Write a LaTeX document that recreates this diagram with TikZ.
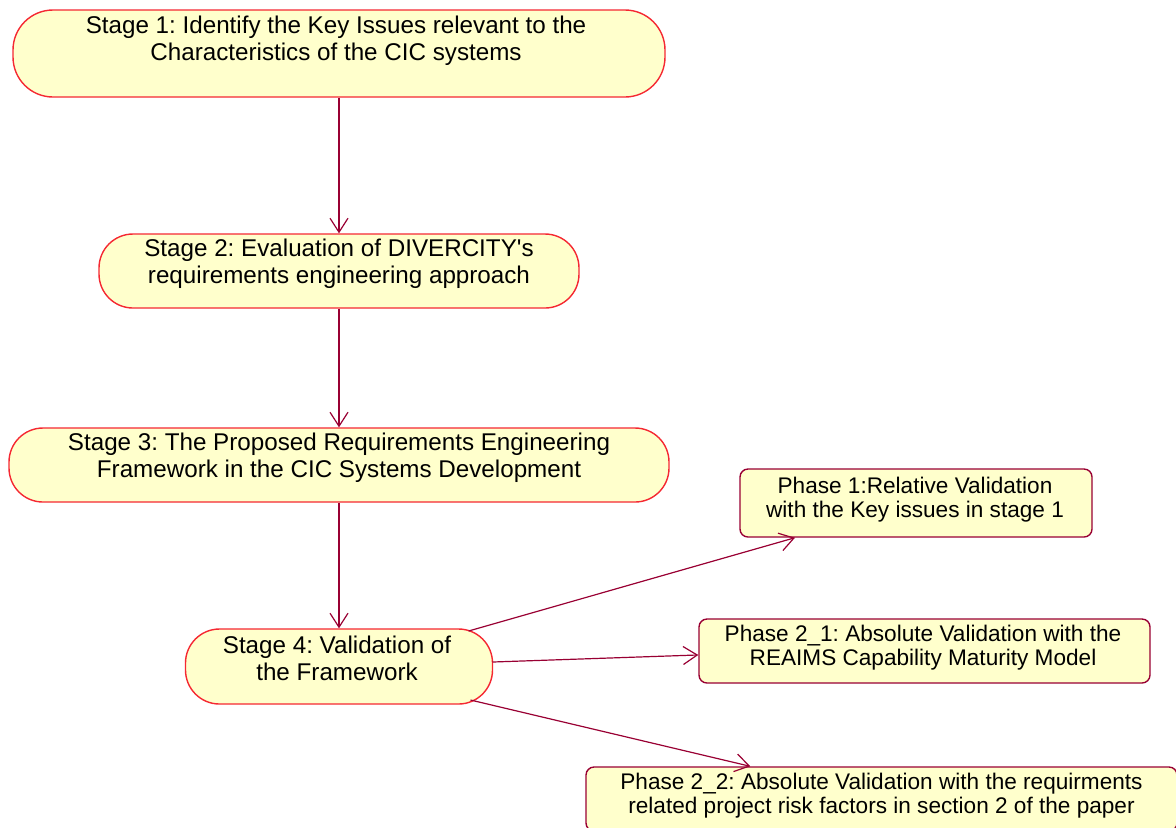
\documentclass[tikz,border=0pt]{standalone}
\usepackage{fontspec}
\setmainfont{Liberation Sans}[Ligatures=TeXOff]
\usetikzlibrary{arrows.meta,calc}
\definecolor{fillY}{RGB}{255,255,204}
\definecolor{stageB}{RGB}{245,40,50}
\definecolor{crim}{RGB}{153,0,51}
\frenchspacing
\begin{document}
\begin{tikzpicture}[x=0.5pt,y=-0.5pt,
  stagebox/.style={draw=stageB,fill=fillY,line width=0.7pt,inner sep=0pt},
  phasebox/.style={draw=crim,fill=fillY,line width=0.7pt,rounded corners=4pt,inner sep=0pt},
  stagetext/.style={align=center,inner sep=0pt,font=\fontsize{12.1pt}{13.7pt}\selectfont},
  phasetext/.style={align=center,inner sep=0pt,font=\fontsize{11.3pt}{12pt}\selectfont},
  conn/.style={draw=crim,line width=0.6pt,-{Straight Barb[length=7pt,width=9pt]}}]
\useasboundingbox (0,0) rectangle (1176,827);
\begin{scope}
\clip (0,0) rectangle (1176,827);
% stages
\node[stagebox,rounded corners=20pt,minimum width=326pt,minimum height=43.5pt] (s1) at (339,53.5) {};
\node[stagetext] (t1) at (336,40.5) {Stage 1: Identify the Key Issues relevant to the\\Characteristics of the CIC systems};
\node[stagebox,rounded corners=17pt,minimum width=240pt,minimum height=37pt] (s2) at (339,271) {};
\node[stagetext] (t2) at (339,264) {Stage 2: Evaluation of DIVERCITY's\\requirements engineering approach};
\node[stagebox,rounded corners=17pt,minimum width=330pt,minimum height=37pt] (s3) at (339,465) {};
\node[stagetext] (t3) at (339,458) {Stage 3: The Proposed Requirements Engineering\\Framework in the CIC Systems Development};
\node[stagebox,rounded corners=17pt,minimum width=153.5pt,minimum height=37.5pt] (s4) at (339,666.5) {};
\node[stagetext] (t4) at (337,658.5) {Stage 4: Validation of\\the Framework};
% phases
\node[phasebox,minimum width=176pt,minimum height=34pt] (p1) at (916,503) {};
\node[phasetext] (tp1) at (915,500) {Phase 1:Relative Validation\\with the Key issues in stage 1};
\node[phasebox,minimum width=225.5pt,minimum height=32pt] (p21) at (924.5,651) {};
\node[phasetext] (tp21) at (923,648) {Phase 2\_1: Absolute Validation with the\\REAIMS Capability Maturity Model};
\node[phasebox,minimum width=295.5pt,minimum height=32pt] (p22) at (881.5,799) {};
\node[phasetext] (tp22) at (881.5,796) {Phase 2\_2: Absolute Validation with the requirments\\related project risk factors in section 2 of the paper};
% connectors
\draw[conn] (s1.south) -- (s2.north);
\draw[conn] (s2.south) -- (s3.north);
\draw[conn] (s3.south) -- (s4.north);
\draw[conn] ($(s4.center)+(129.5,-35.5)$) -- (p1.196);
\draw[conn] ($(s4.center)+(153.5,-4.5)$) -- (p21.181.5);
\draw[conn] ($(s4.center)+(131.5,33.5)$) -- (p22.166.3);
\end{scope}
\end{tikzpicture}
\end{document}
